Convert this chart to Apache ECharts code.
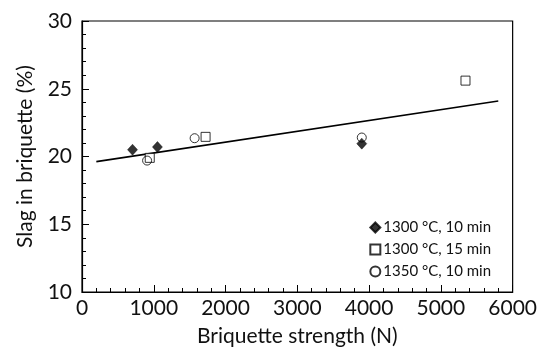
<!DOCTYPE html>
<html>
<head>
<meta charset="utf-8">
<script src="https://cdn.jsdelivr.net/npm/echarts@6/dist/echarts.min.js"></script>
<style>
  html, body { margin: 0; padding: 0; background: #fff; }
  #chart { width: 540px; height: 352px; }
</style>
</head>
<body>
<div id="chart"></div>
<script>
// data: [strength (N), slag (%)]
const s1300_10 = [[704, 20.5], [1051, 20.7], [3898, 20.95]]
const s1300_15 = [[944, 19.9], [1722, 21.45], [5343, 25.6]]
const s1350_10 = [[907, 19.7], [1569, 21.35], [3898, 21.4]]
const trendLine = [[200, 19.62], [5800, 24.1]]

const seriesNames = ['1300 °C, 10 min', '1300 °C, 15 min', '1350 °C, 10 min']
const xTicks = { min: 0, max: 6000, step: 1000 }
const yTicks = { min: 10, max: 30, step: 5 }

const textColor = '#111'
const font = 'Lato, "Open Sans", sans-serif'

const chart = echarts.init(document.getElementById('chart'))
chart.setOption({
  animation: false,
  grid: {
    left: 82, right: 26, top: 21, bottom: 57,
    show: true, borderColor: '#000', borderWidth: 1.2, backgroundColor: 'transparent'
  },
  legend: {
    orient: 'vertical',
    right: 44,
    top: 215,
    itemWidth: 10,
    itemHeight: 10,
    itemGap: 7,
    data: seriesNames,
    textStyle: { color: textColor, fontSize: 15, fontFamily: font, padding: [0, 0, 0, -2] }
  },
  xAxis: {
    type: 'value',
    min: xTicks.min, max: xTicks.max, interval: xTicks.step,
    name: 'Briquette strength (N)',
    nameLocation: 'middle',
    nameGap: 34,
    nameTextStyle: { color: textColor, fontSize: 21, fontFamily: font },
    axisLine: { show: true, lineStyle: { color: '#000', width: 1.2 } },
    axisTick: { show: true, inside: true, length: 7, lineStyle: { color: '#000' } },
    minorTick: { show: true, splitNumber: 5, length: 4, lineStyle: { color: '#000' } },
    axisLabel: { color: textColor, fontSize: 21, fontFamily: font, margin: 6, formatter: v => String(v) },
    splitLine: { show: false }
  },
  yAxis: {
    type: 'value',
    min: yTicks.min, max: yTicks.max, interval: yTicks.step,
    name: 'Slag in briquette (%)',
    nameLocation: 'middle',
    nameGap: 46,
    nameTextStyle: { color: textColor, fontSize: 21, fontFamily: font },
    axisLine: { show: true, lineStyle: { color: '#000', width: 1.2 } },
    axisTick: { show: true, inside: true, length: 7, lineStyle: { color: '#000' } },
    minorTick: { show: true, splitNumber: 5, length: 4, lineStyle: { color: '#000' } },
    axisLabel: { color: textColor, fontSize: 21, fontFamily: font, margin: 10 },
    splitLine: { show: false }
  },
  series: [
    {
      name: 'trend',
      type: 'line',
      data: trendLine,
      symbol: 'none',
      silent: true,
      lineStyle: { color: '#000', width: 1.6 },
      z: 1
    },
    {
      name: seriesNames[0],
      type: 'scatter',
      data: s1300_10,
      symbol: 'diamond',
      symbolSize: [10, 11],
      itemStyle: { color: '#000', borderColor: '#000', borderWidth: 0.5 },
      z: 3
    },
    {
      name: seriesNames[1],
      type: 'scatter',
      data: s1300_15,
      symbol: 'rect',
      symbolSize: 9,
      itemStyle: { color: '#fff', borderColor: '#000', borderWidth: 1 },
      z: 2
    },
    {
      name: seriesNames[2],
      type: 'scatter',
      data: s1350_10,
      symbol: 'circle',
      symbolSize: 9,
      itemStyle: { color: 'rgba(255,255,255,0)', borderColor: '#000', borderWidth: 1 },
      z: 4
    }
  ]
})
</script>
</body>
</html>
